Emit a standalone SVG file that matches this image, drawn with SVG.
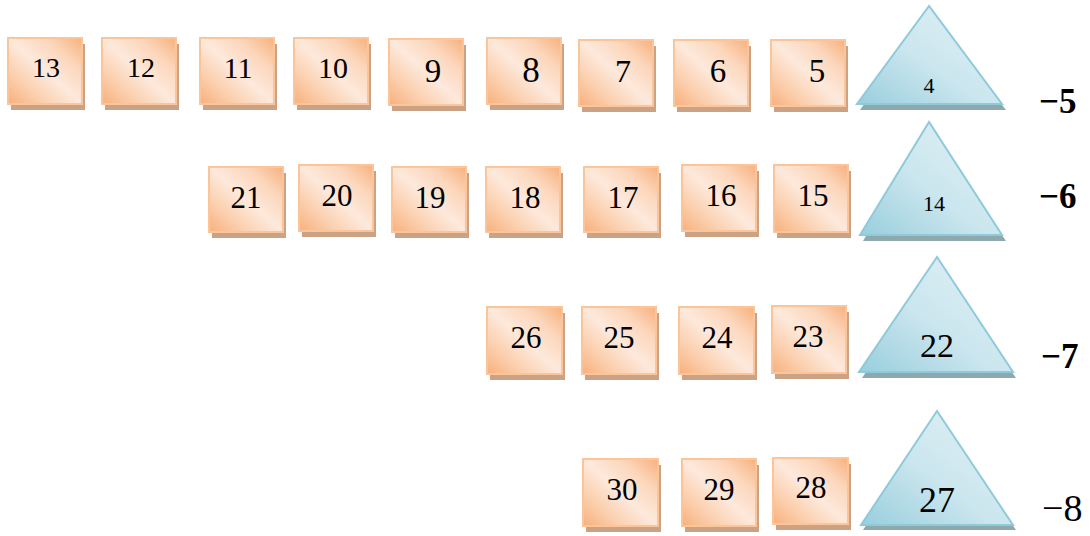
<svg xmlns="http://www.w3.org/2000/svg" width="1090" height="536" viewBox="0 0 1090 536">
<defs>
<linearGradient id="sq" x1="0" y1="1" x2="1" y2="0">
<stop offset="0" stop-color="#f7b07c"/>
<stop offset="0.25" stop-color="#fbcfae"/>
<stop offset="0.5" stop-color="#fde9dc"/>
<stop offset="0.75" stop-color="#fcd6bb"/>
<stop offset="1" stop-color="#f7b07c"/>
</linearGradient>
<linearGradient id="tri" x1="0" y1="1" x2="1" y2="0">
<stop offset="0" stop-color="#98cedd"/>
<stop offset="0.45" stop-color="#cbe6ee"/>
<stop offset="1" stop-color="#e3f1f6"/>
</linearGradient>
<style>
.sh{fill:#cca285}
.bx{fill:url(#sq);stroke:#fbc599;stroke-width:2}
.tsh{fill:#8ea9ad}
.tr{fill:url(#tri);stroke:#8fcadb;stroke-width:2;stroke-linejoin:miter}
.n{font-family:"Liberation Serif","Times New Roman",serif;font-size:31px;fill:#000;text-anchor:middle}
.lb{font-family:"Liberation Serif","Times New Roman",serif;font-size:38px;fill:#000}
.b{font-weight:bold;font-size:35px}
</style>
</defs>

<!-- Row 1 -->
<g id="n13"><rect class="sh" x="11" y="44" width="74" height="66"/><rect class="bx" x="8" y="38" width="74" height="66"/><text class="n" x="46" y="77" style="font-size:28px">13</text></g>
<g id="n12"><rect class="sh" x="105" y="44" width="74" height="66"/><rect class="bx" x="102" y="38" width="74" height="66"/><text class="n" x="141" y="77" style="font-size:28px">12</text></g>
<g id="n11"><rect class="sh" x="203" y="44" width="74" height="66"/><rect class="bx" x="200" y="38" width="74" height="66"/><text class="n" x="238" y="78" style="font-size:30px">11</text></g>
<g id="n10"><rect class="sh" x="297" y="44" width="74" height="66"/><rect class="bx" x="294" y="38" width="74" height="66"/><text class="n" x="333" y="78" style="font-size:30px">10</text></g>
<g id="n9"><rect class="sh" x="392" y="45" width="74" height="66"/><rect class="bx" x="389" y="39" width="74" height="66"/><text class="n" x="433" y="82" style="font-size:33px">9</text></g>
<g id="n8"><rect class="sh" x="490" y="44" width="74" height="66"/><rect class="bx" x="487" y="38" width="74" height="66"/><text class="n" x="531" y="82" style="font-size:35px">8</text></g>
<g id="n7"><rect class="sh" x="582" y="46" width="74" height="66"/><rect class="bx" x="579" y="40" width="74" height="66"/><text class="n" x="623" y="82" style="font-size:32px">7</text></g>
<g id="n6"><rect class="sh" x="677" y="46" width="74" height="66"/><rect class="bx" x="674" y="40" width="74" height="66"/><text class="n" x="718" y="82" style="font-size:33px">6</text></g>
<g id="n5"><rect class="sh" x="774" y="46" width="74" height="66"/><rect class="bx" x="771" y="40" width="74" height="66"/><text class="n" x="817" y="82" style="font-size:33px">5</text></g>
<g id="n4"><polygon class="tsh" points="929,12 860,110 1006,110"/><polygon class="tr" points="929,6 857,104 1002,104"/><text class="n" x="929" y="93" style="font-size:22px">4</text></g>
<g id="lab5"><text class="lb b" x="1039" y="113">−5</text></g>

<!-- Row 2 -->
<g id="n21"><rect class="sh" x="212" y="173" width="74" height="65"/><rect class="bx" x="209" y="167" width="74" height="65"/><text class="n" x="246" y="208">21</text></g>
<g id="n20"><rect class="sh" x="302" y="171" width="74" height="66"/><rect class="bx" x="299" y="165" width="74" height="66"/><text class="n" x="337" y="206">20</text></g>
<g id="n19"><rect class="sh" x="395" y="173" width="74" height="65"/><rect class="bx" x="392" y="167" width="74" height="65"/><text class="n" x="430" y="208">19</text></g>
<g id="n18"><rect class="sh" x="489" y="173" width="74" height="65"/><rect class="bx" x="486" y="167" width="74" height="65"/><text class="n" x="525" y="208">18</text></g>
<g id="n17"><rect class="sh" x="587" y="173" width="74" height="65"/><rect class="bx" x="584" y="167" width="74" height="65"/><text class="n" x="623" y="208">17</text></g>
<g id="n16"><rect class="sh" x="685" y="171" width="74" height="66"/><rect class="bx" x="682" y="165" width="74" height="66"/><text class="n" x="721" y="206">16</text></g>
<g id="n15"><rect class="sh" x="777" y="171" width="74" height="67"/><rect class="bx" x="774" y="165" width="74" height="67"/><text class="n" x="813" y="206">15</text></g>
<g id="n14"><polygon class="tsh" points="929,128 863,241 1006,241"/><polygon class="tr" points="929,122 860,235 1002,235"/><text class="n" x="934" y="211" style="font-size:22px">14</text></g>
<g id="lab6"><text class="lb b" x="1039" y="208">−6</text></g>

<!-- Row 3 -->
<g id="n26"><rect class="sh" x="490" y="313" width="75" height="67"/><rect class="bx" x="487" y="307" width="75" height="67"/><text class="n" x="526" y="348">26</text></g>
<g id="n25"><rect class="sh" x="585" y="313" width="74" height="67"/><rect class="bx" x="582" y="307" width="74" height="67"/><text class="n" x="619" y="348">25</text></g>
<g id="n24"><rect class="sh" x="682" y="313" width="75" height="67"/><rect class="bx" x="679" y="307" width="75" height="67"/><text class="n" x="717" y="348">24</text></g>
<g id="n23"><rect class="sh" x="775" y="312" width="74" height="67"/><rect class="bx" x="772" y="306" width="74" height="67"/><text class="n" x="808" y="347">23</text></g>
<g id="n22"><polygon class="tsh" points="937,263 862,378 1016,378"/><polygon class="tr" points="937,257 859,372 1013,372"/><text class="n" x="937" y="357" style="font-size:34px">22</text></g>
<g id="lab7"><text class="lb b" x="1041" y="368">−7</text></g>

<!-- Row 4 -->
<g id="n30"><rect class="sh" x="586" y="465" width="75" height="67"/><rect class="bx" x="583" y="459" width="75" height="67"/><text class="n" x="622" y="500">30</text></g>
<g id="n29"><rect class="sh" x="685" y="465" width="74" height="67"/><rect class="bx" x="682" y="459" width="74" height="67"/><text class="n" x="719" y="500">29</text></g>
<g id="n28"><rect class="sh" x="776" y="464" width="75" height="66"/><rect class="bx" x="773" y="458" width="75" height="66"/><text class="n" x="811" y="498">28</text></g>
<g id="n27"><polygon class="tsh" points="937,417 863,530 1016,530"/><polygon class="tr" points="937,411 861,525 1013,525"/><text class="n" x="937" y="512" style="font-size:36px">27</text></g>
<g id="lab8"><text class="lb" x="1042" y="521">−8</text></g>
</svg>
